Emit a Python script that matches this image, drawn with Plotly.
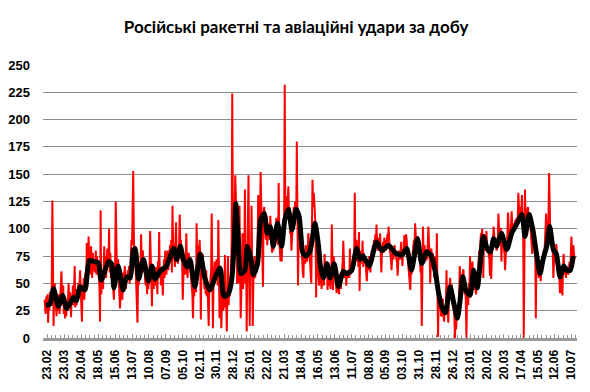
import plotly.graph_objects as go

# Tick labels (every 28 days)
tick_labels = ["23.02", "23.03", "20.04", "18.05", "15.06", "13.07", "10.08", "07.09",
               "05.10", "02.11", "30.11", "28.12", "25.01", "22.02", "21.03", "18.04",
               "16.05", "13.06", "11.07", "08.08", "05.09", "03.10", "31.10", "28.11",
               "26.12", "23.01", "20.02", "20.03", "17.04", "15.05", "12.06", "10.07"]
tick_days = [5 + 28 * k for k in range(len(tick_labels))]

# Daily strikes, in blocks of 28 days
red_blocks = [
    [35, 30, 22, 38, 28, 40, 14, 33, 25, 42, 30, 36, 48, 126, 55, 11, 40, 50, 35, 28, 20, 33, 25, 28, 40, 22, 35, 45],
    [61, 42, 30, 48, 22, 35, 18, 28, 20, 32, 25, 38, 50, 30, 42, 35, 19, 40, 35, 48, 30, 45, 66, 28, 38, 30, 45, 40],
    [50, 38, 55, 62, 45, 30, 15, 48, 40, 55, 35, 50, 60, 45, 87, 70, 62, 93, 75, 58, 65, 84, 70, 55, 78, 62, 72, 60],
    [65, 80, 58, 75, 62, 70, 55, 48, 15, 117, 40, 52, 60, 45, 70, 84, 62, 75, 55, 68, 82, 65, 72, 100, 60, 78, 55, 70],
    [58, 50, 40, 35, 55, 70, 125, 75, 60, 68, 72, 55, 45, 27, 38, 50, 42, 35, 60, 48, 55, 66, 50, 45, 58, 52, 62, 55],
    [66, 50, 60, 75, 90, 85, 110, 153, 95, 70, 80, 62, 50, 45, 14, 55, 48, 62, 70, 58, 95, 75, 68, 80, 60, 72, 55, 50],
    [48, 55, 40, 60, 45, 58, 62, 98, 70, 55, 29, 60, 50, 45, 62, 55, 48, 65, 58, 40, 70, 60, 97, 55, 62, 48, 65, 58],
    [39, 60, 72, 55, 80, 65, 58, 75, 80, 62, 70, 68, 85, 75, 90, 60, 121, 88, 78, 70, 65, 90, 106, 72, 80, 68, 75, 85],
    [113, 85, 90, 70, 75, 35, 60, 72, 68, 58, 75, 96, 62, 55, 70, 78, 65, 72, 60, 55, 45, 40, 18, 50, 38, 45, 55, 42],
    [105, 70, 85, 78, 68, 90, 75, 17, 65, 58, 77, 60, 52, 45, 55, 40, 62, 38, 50, 35, 11, 48, 42, 55, 60, 114, 70, 9],
    [50, 62, 70, 58, 55, 72, 60, 48, 108, 65, 18, 55, 40, 9, 35, 42, 25, 30, 45, 76, 28, 35, 6, 40, 75, 30, 45, 38],
    [45, 60, 85, 224, 120, 100, 95, 110, 149, 130, 100, 50, 80, 65, 50, 121, 70, 18, 40, 60, 96, 45, 55, 70, 136, 50, 80, 6],
    [70, 95, 149, 60, 11, 80, 70, 121, 40, 11, 50, 62, 75, 55, 68, 70, 60, 82, 131, 95, 110, 100, 152, 120, 108, 95, 47, 115],
    [120, 105, 98, 90, 112, 85, 100, 95, 105, 90, 112, 100, 85, 78, 92, 80, 88, 95, 100, 90, 110, 98, 105, 85, 142, 90, 80, 70],
    [85, 70, 90, 100, 95, 105, 232, 110, 120, 130, 115, 125, 139, 110, 120, 95, 105, 80, 90, 100, 110, 120, 105, 125, 115, 110, 180, 105],
    [48, 95, 110, 85, 80, 96, 75, 70, 60, 55, 80, 72, 68, 85, 78, 70, 75, 96, 88, 80, 70, 65, 50, 100, 145, 120, 133, 125],
    [115, 100, 37, 90, 70, 60, 55, 48, 65, 50, 58, 45, 52, 62, 55, 48, 77, 60, 70, 58, 62, 44, 55, 48, 60, 52, 45, 58],
    [104, 70, 44, 75, 68, 60, 55, 50, 41, 48, 45, 52, 40, 59, 50, 45, 55, 60, 70, 89, 65, 55, 62, 58, 48, 60, 55, 62],
    [60, 55, 82, 58, 65, 60, 62, 69, 75, 70, 133, 85, 78, 90, 70, 80, 65, 97, 43, 75, 68, 80, 72, 89, 65, 78, 70, 72],
    [70, 60, 52, 65, 70, 62, 75, 68, 60, 72, 80, 70, 85, 78, 90, 82, 95, 85, 104, 88, 80, 92, 85, 80, 96, 82, 60, 78],
    [82, 88, 78, 92, 85, 80, 90, 86, 95, 88, 102, 85, 80, 78, 70, 62, 75, 80, 72, 78, 85, 76, 80, 72, 70, 57, 75, 80],
    [78, 72, 80, 88, 76, 66, 82, 75, 94, 85, 82, 95, 90, 78, 70, 65, 60, 55, 44, 62, 58, 70, 75, 80, 90, 85, 105, 95],
    [90, 85, 93, 88, 80, 75, 70, 60, 65, 11, 72, 102, 80, 75, 85, 70, 78, 80, 72, 88, 102, 85, 80, 50, 75, 82, 70, 78],
    [70, 65, 55, 60, 75, 50, 96, 45, 1, 35, 30, 40, 25, 20, 21, 30, 36, 20, 15, 25, 30, 28, 62, 35, 20, 14, 40, 50],
    [55, 45, 40, 49, 30, 35, 28, 20, 0, 15, 8, 25, 18, 30, 20, 45, 66, 50, 40, 58, 55, 60, 63, 50, 40, 45, 35, 0],
    [40, 35, 30, 50, 45, 75, 55, 60, 66, 70, 58, 60, 44, 50, 45, 40, 52, 48, 55, 70, 80, 75, 85, 96, 90, 100, 88, 55],
    [95, 90, 85, 80, 98, 85, 78, 80, 75, 72, 57, 80, 54, 85, 90, 88, 102, 95, 85, 92, 88, 80, 85, 90, 114, 95, 88, 100],
    [100, 70, 95, 90, 85, 80, 78, 62, 75, 85, 80, 95, 115, 100, 90, 95, 98, 105, 116, 100, 95, 105, 98, 104, 108, 100, 110, 105],
    [110, 133, 115, 108, 120, 112, 118, 131, 110, 105, 0, 95, 136, 110, 118, 112, 115, 120, 108, 105, 112, 100, 95, 90, 77, 85, 95, 102],
    [90, 85, 18, 80, 70, 62, 58, 55, 60, 65, 52, 58, 70, 65, 75, 80, 72, 85, 90, 114, 95, 88, 100, 110, 151, 105, 95, 90],
    [85, 90, 80, 55, 75, 82, 70, 78, 86, 75, 70, 65, 60, 55, 41, 50, 58, 45, 39, 60, 77, 65, 58, 62, 55, 66, 60, 62],
    [58, 65, 70, 62, 75, 93, 70, 65, 85, 75, 72],
]

# Smoothed (moving-average) line
avg_days = [2, 9, 15, 23, 30, 37, 48, 53, 59, 67, 74, 82, 89, 94, 106, 111, 115, 122, 130, 136,
            142, 147, 150, 156, 164, 172, 178, 183, 191, 202, 214, 219, 225, 230, 236, 241, 249, 258, 266, 274,
            283, 291, 296, 299, 305, 310, 314, 317, 321, 325, 332, 336, 342, 346, 353, 358, 364, 369, 374, 379,
            386, 393, 398, 404, 410, 417, 422, 428, 433, 440, 448, 454, 457, 462, 468, 473, 480, 487, 495, 501,
            509, 517, 523, 528, 538, 550, 559, 570, 581, 592, 600, 608, 618, 625, 633, 641, 647, 653, 658, 664,
            672, 677, 684, 688, 693, 698, 705, 711, 717, 723, 727, 734, 739, 744, 749, 757, 766, 774, 782, 791,
            796, 803, 810, 815, 821, 826, 832, 837, 843, 848, 854, 860, 865, 871, 876]
avg_vals = [30, 31, 45, 29, 39, 27, 37, 34, 47, 44, 71, 70, 69, 53, 70, 68, 46, 66, 44, 56,
            55, 80, 82, 54, 72, 52, 66, 54, 61, 66, 82, 72, 84, 72, 65, 72, 47, 77, 54, 44,
            56, 64, 40, 38, 41, 53, 84, 123, 90, 59, 62, 84, 72, 58, 68, 108, 114, 96, 102, 84,
            105, 84, 108, 118, 99, 118, 111, 78, 75, 80, 105, 84, 66, 55, 68, 55, 68, 47, 61, 59,
            62, 82, 72, 75, 66, 88, 80, 85, 78, 76, 82, 62, 91, 68, 79, 75, 62, 41, 29, 23,
            47, 35, 18, 32, 56, 44, 39, 62, 46, 75, 93, 81, 79, 91, 84, 96, 81, 96, 104, 113,
            93, 113, 96, 77, 59, 72, 84, 102, 81, 77, 56, 66, 62, 62, 75]

red_x, red_y = [], []
for k, block in enumerate(red_blocks):
    for i, v in enumerate(block):
        red_x.append(28 * k + i)
        red_y.append(v)

fig = go.Figure()
fig.add_trace(go.Scatter(x=red_x, y=red_y, mode="lines",
                         line=dict(color="#ff0000", width=2), hoverinfo="skip"))
fig.add_trace(go.Scatter(x=avg_days, y=avg_vals, mode="lines",
                         line=dict(color="#000000", width=5, shape="spline", smoothing=0.6),
                         hoverinfo="skip"))

axis_font = "Liberation Sans, Arial, sans-serif"

# The page body adds an 8px offset, so the figure is drawn 8px smaller
fig.update_layout(
    width=582, height=384,
    margin=dict(l=35, r=13, t=57, b=54),
    paper_bgcolor="white", plot_bgcolor="white",
    showlegend=False,
    title=dict(text="Російські ракетні та авіаційні удари за добу",
               x=0.495, xanchor="center", y=0.95, yanchor="middle",
               font=dict(family="Lato, Noto Sans, sans-serif", size=17, color="#000000", weight="bold")),
    xaxis=dict(
        range=[-2.5, 882.2], automargin=False,
        tickmode="array", tickvals=tick_days, ticktext=tick_labels,
        tickangle=-90,
        tickfont=dict(family=axis_font, size=12, color="#000000", weight="bold"),
        ticks="inside", ticklen=4, tickwidth=1, tickcolor="#9a9a9a",
        showline=True, linecolor="#9a9a9a", linewidth=3,
        showgrid=False, zeroline=False,
        ticklabelstandoff=4,
        minor=dict(tick0=5, dtick=7, ticks="inside", ticklen=3, tickwidth=1,
                   tickcolor="#9a9a9a", showgrid=False),
    ),
    yaxis=dict(
        range=[0, 250], automargin=False,
        tickmode="array", tickvals=list(range(0, 251, 25)),
        tickfont=dict(family=axis_font, size=13, color="#000000", weight="bold"),
        showgrid=True, gridcolor="#8c8c8c", gridwidth=1,
        zeroline=False, showline=False, ticks="",
        ticklabelstandoff=12,
    ),
)

fig.write_html("out.html")
